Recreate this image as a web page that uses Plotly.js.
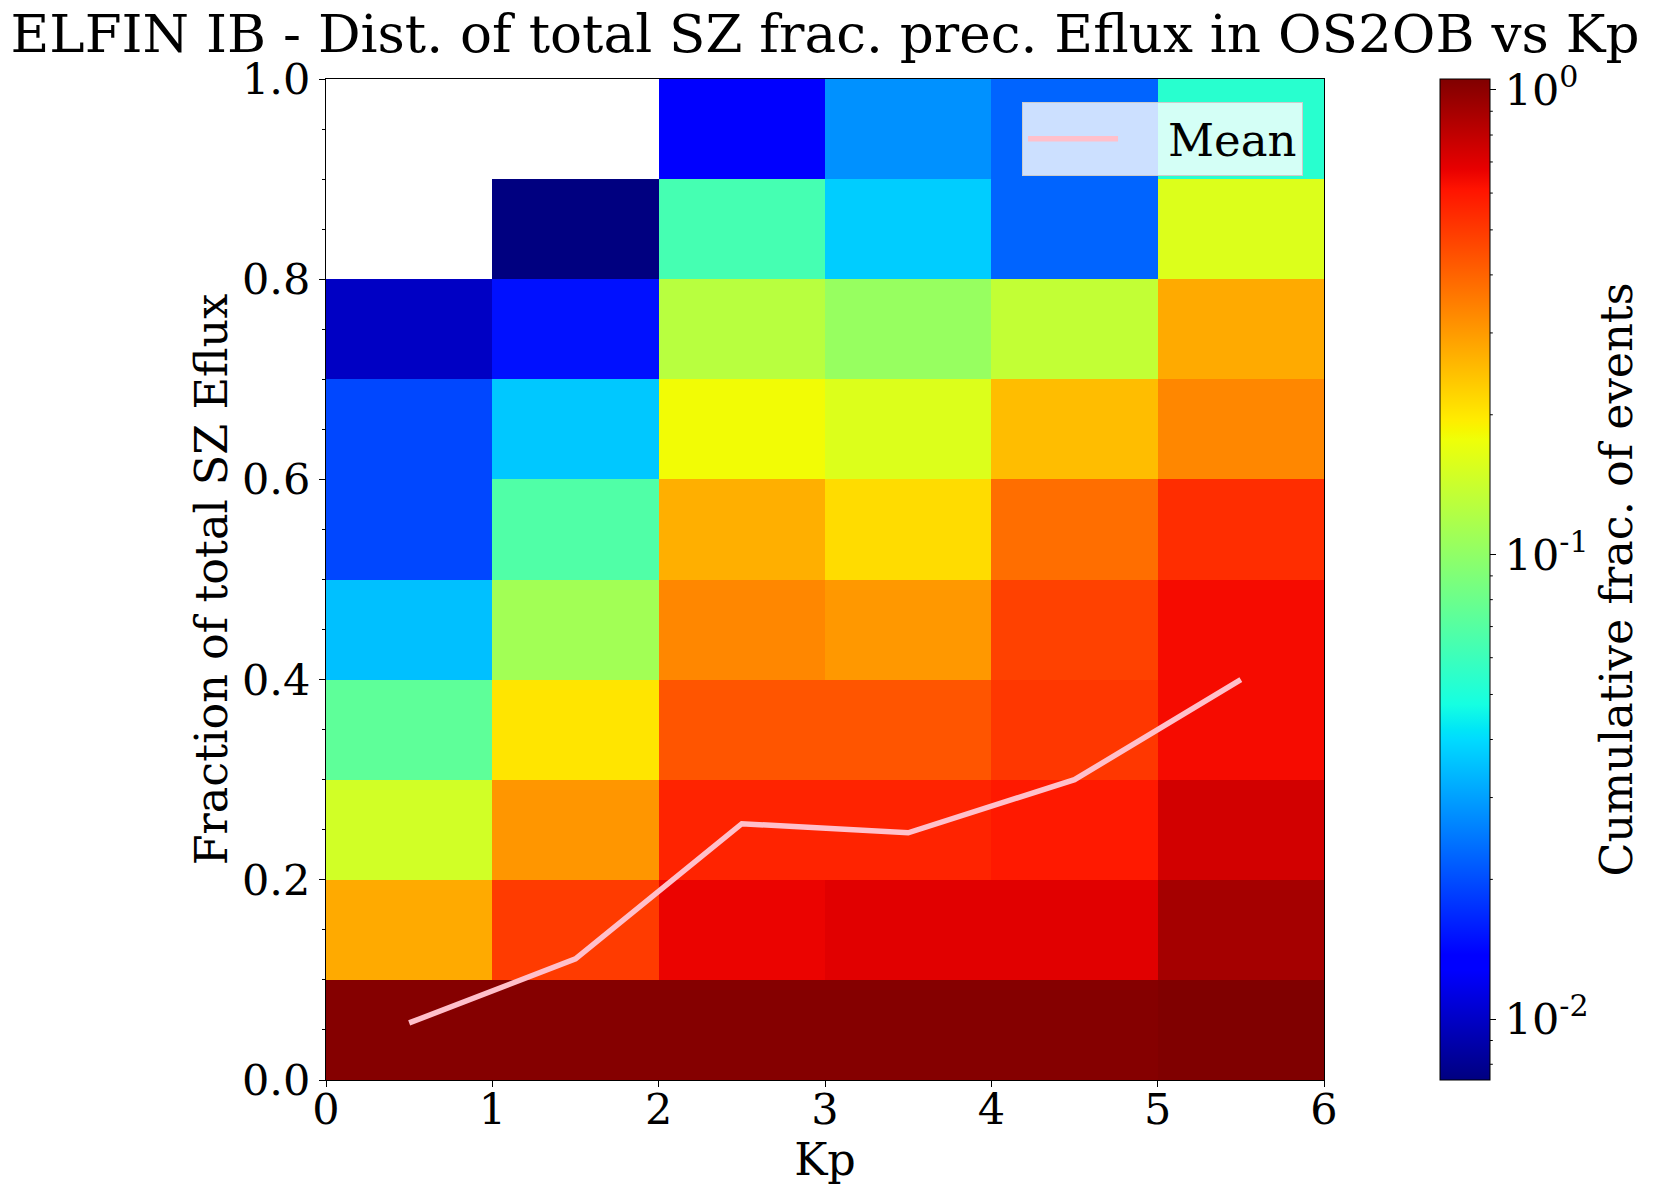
<!DOCTYPE html>
<html>
<head>
<meta charset="utf-8">
<script src="https://cdn.plot.ly/plotly-3.0.1.min.js"></script>
<style>html,body{margin:0;padding:0;background:#fff;}#chart{width:1654px;height:1192px;}</style>
</head>
<body>
<div id="chart"></div>
<script>
// Bin edges
const kpEdges = [0, 1, 2, 3, 4, 5, 6];
const fracEdges = [0, 0.1, 0.2, 0.3, 0.4, 0.5, 0.6, 0.7, 0.8, 0.9, 1.0];

// Cumulative fraction of events per Kp bin (rows from fraction 0.0-0.1 up to 0.9-1.0); null = no data
const kp0_1 = [1.035, 0.277, 0.148, 0.074, 0.035, 0.0194, 0.0194, 0.0099, null, null];
const kp1_2 = [1.035, 0.495, 0.307, 0.203, 0.111, 0.068, 0.0365, 0.0149, 0.0074, null];
const kp2_3 = [1.035, 0.666, 0.563, 0.433, 0.333, 0.270, 0.180, 0.127, 0.0635, 0.0131];
const kp3_4 = [1.035, 0.697, 0.563, 0.433, 0.304, 0.213, 0.158, 0.104, 0.0374, 0.0279];
const kp4_5 = [1.035, 0.697, 0.594, 0.507, 0.480, 0.380, 0.250, 0.135, 0.0224, 0.0224];
const kp5_6 = [1.056, 0.901, 0.743, 0.637, 0.637, 0.533, 0.333, 0.277, 0.158, 0.0532];

// Mean fraction per Kp bin
const meanFrac = [0.057, 0.121, 0.256, 0.247, 0.300, 0.400];

// Colorbar tick labels
const cbTickVals = [-2, -1, 0];
const cbTickText = ['10<sup>-2</sup>', '10<sup>-1</sup>', '10<sup>0</sup>'];

const columns = [kp0_1, kp1_2, kp2_3, kp3_4, kp4_5, kp5_6];
const z = [];
for (let r = 0; r < fracEdges.length - 1; r++) {
  z.push(columns.map(c => (c[r] == null ? null : Math.log10(c[r]))));
}
const allVals = columns.flat().filter(v => v != null);
const zmin = Math.log10(Math.min(...allVals));
const zmax = Math.log10(Math.max(...allVals));
const kpCenters = kpEdges.slice(0, -1).map((e, i) => (e + kpEdges[i + 1]) / 2);

const jet = [
  [0, 'rgb(0,0,128)'], [0.11, 'rgb(0,0,255)'], [0.125, 'rgb(0,0,255)'],
  [0.34, 'rgb(0,219,255)'], [0.35, 'rgb(0,230,247)'], [0.375, 'rgb(21,255,226)'],
  [0.64, 'rgb(239,255,8)'], [0.65, 'rgb(247,246,0)'], [0.66, 'rgb(255,236,0)'],
  [0.89, 'rgb(255,19,0)'], [0.91, 'rgb(232,0,0)'], [1, 'rgb(128,0,0)']
];

const FONT = 'DejaVu Serif, Liberation Serif, serif';
const TICK = 43, LAB = 44.5;
const plotW = 1002;
const cbX = (1444 - 326) / plotW, cbThick = 50;

const heat = {
  type: 'heatmap', x: kpEdges, y: fracEdges, z: z,
  colorscale: jet, zmin: zmin, zmax: zmax, zsmooth: false,
  hoverinfo: 'skip', showlegend: false,
  colorbar: {
    x: cbX, xanchor: 'left', xref: 'paper', xpad: 0, ypad: 0,
    y: 0.5, yanchor: 'middle', len: 1, lenmode: 'fraction',
    thickness: cbThick, thicknessmode: 'pixels',
    outlinewidth: 1, outlinecolor: 'black',
    tickmode: 'array', tickvals: cbTickVals, ticktext: cbTickText,
    ticks: 'outside', ticklen: 6, tickwidth: 1, tickcolor: 'black',
    tickfont: {family: FONT, size: TICK, color: 'black'},
    title: {text: 'Cumulative frac. of events', side: 'right', font: {family: FONT, size: LAB, color: 'black'}}
  }
};

const meanLine = {
  type: 'scatter', mode: 'lines', x: kpCenters, y: meanFrac, name: '\u2003Mean',
  line: {color: 'pink', width: 5.5}, hoverinfo: 'skip', showlegend: true
};

// minor ticks on the log colorbar
const shapes = [];
for (let e = -3; e <= 0; e++) {
  for (let k = 2; k <= 9; k++) {
    const lv = Math.log10(k * Math.pow(10, e));
    if (lv > zmin && lv < zmax) {
      const yy = (lv - zmin) / (zmax - zmin);
      const x0 = cbX + cbThick / plotW;
      shapes.push({type: 'line', xref: 'paper', yref: 'paper', x0: x0, x1: x0 + 3.5 / plotW, y0: yy, y1: yy,
        line: {color: 'black', width: 1}});
    }
  }
}

const layout = {
  width: 1654, height: 1192,
  margin: {l: 326, r: 1654 - 326 - plotW, t: 79, b: 112, pad: 0},
  paper_bgcolor: 'white', plot_bgcolor: 'white',
  font: {family: FONT, color: 'black', size: TICK},
  showlegend: true,
  title: {text: 'ELFIN IB - Dist. of total SZ frac. prec. Eflux in OS2OB vs Kp',
    font: {family: FONT, size: 53.2, color: 'black'},
    x: 0.5, xref: 'paper', xanchor: 'center', y: 0.972, yref: 'container', yanchor: 'middle'},
  xaxis: {
    range: [0, 6], tickmode: 'linear', tick0: 0, dtick: 1,
    ticks: 'outside', ticklen: 6, tickwidth: 1, tickcolor: 'black',
    showline: true, linecolor: 'black', linewidth: 1, mirror: true,
    showgrid: false, zeroline: false,
    ticklabelstandoff: -15,
    tickfont: {family: FONT, size: TICK, color: 'black'},
    title: {text: 'Kp', font: {family: FONT, size: LAB, color: 'black'}, standoff: 8}
  },
  yaxis: {
    range: [0, 1], tickmode: 'linear', tick0: 0, dtick: 0.2, tickformat: '.1f',
    ticks: 'outside', ticklen: 6, tickwidth: 1, tickcolor: 'black',
    minor: {dtick: 0.05, ticks: 'outside', ticklen: 3.5, tickwidth: 1, tickcolor: 'black', showgrid: false},
    showline: true, linecolor: 'black', linewidth: 1, mirror: true,
    showgrid: false, zeroline: false,
    ticklabelstandoff: 0,
    tickfont: {family: FONT, size: TICK, color: 'black'},
    title: {text: 'Fraction of total SZ Eflux', font: {family: FONT, size: LAB, color: 'black'}, standoff: 0}
  },
  legend: {
    x: 0.979, xanchor: 'right', y: 0.977, yanchor: 'top',
    bgcolor: 'rgba(255,255,255,0.8)', bordercolor: '#cccccc', borderwidth: 1,
    font: {family: FONT, size: 45, color: 'black'}, itemwidth: 90
  },
  shapes: shapes
};

Plotly.newPlot('chart', [heat, meanLine], layout, {displayModeBar: false, staticPlot: true});
</script>
</body>
</html>
